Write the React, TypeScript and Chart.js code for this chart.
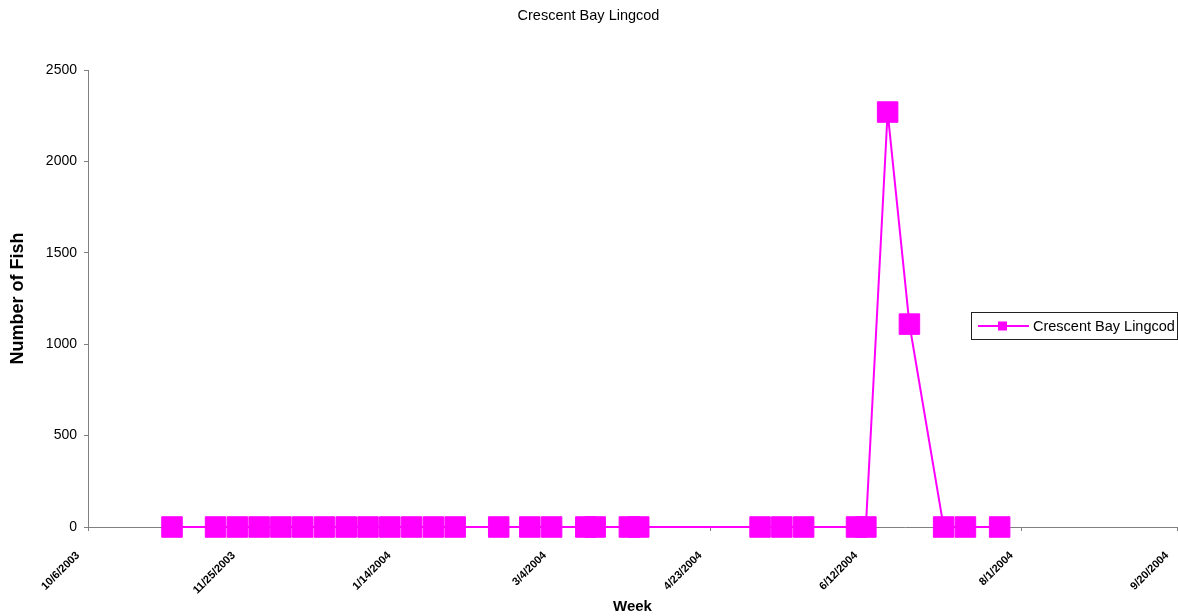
import React, { useEffect, useRef } from "react";
import { Chart, registerables } from "chart.js";

Chart.register(...registerables);

const CHART_TITLE = "Crescent Bay Lingcod";
const SERIES_NAME = "Crescent Bay Lingcod";
const X_TITLE = "Week";
const Y_TITLE = "Number of Fish";
const BASE_DATE = "2003-10-06";
const TICK_STEP_DAYS = 50;
const X_MAX_DAYS = 350;
const Y_MAX = 2500;
const Y_STEP = 500;

const tickLabels = [
  "10/6/2003",
  "11/25/2003",
  "1/14/2004",
  "3/4/2004",
  "4/23/2004",
  "6/12/2004",
  "8/1/2004",
  "9/20/2004",
];

const sampleDates = [
  "2003-11-02", "2003-11-16", "2003-11-23", "2003-11-30", "2003-12-07",
  "2003-12-14", "2003-12-21", "2003-12-28", "2004-01-04", "2004-01-11",
  "2004-01-18", "2004-01-25", "2004-02-01", "2004-02-15", "2004-02-25",
  "2004-03-03", "2004-03-14", "2004-03-17", "2004-03-28", "2004-03-31",
  "2004-05-09", "2004-05-16", "2004-05-23", "2004-06-09", "2004-06-12",
  "2004-06-19", "2004-06-26", "2004-07-07", "2004-07-14", "2004-07-25",
];

const lingcodCounts = [
  0, 0, 0, 0, 0, 0, 0, 0, 0, 0, 0, 0, 0, 0, 0, 0, 0, 0, 0, 0, 0, 0, 0, 0, 0,
  2270, 1110, 0, 0, 0,
];

const MAGENTA = "#FF00FF";
const AXIS_GREY = "#808080";
const FONT = "'Liberation Sans', Arial, sans-serif";

const dayOffset = (d: string) =>
  Math.round((Date.parse(d) - Date.parse(BASE_DATE)) / 86400000);

const boxLegend = {
  id: "boxLegend",
  afterDraw(chart: any) {
    const ctx = chart.ctx as CanvasRenderingContext2D;
    const area = chart.chartArea;
    const boxLeft = 971;
    const boxRight = chart.width;
    const midY = Math.round(area.top + (area.bottom - area.top) * 0.56);
    const boxTop = midY - 14;
    ctx.save();
    ctx.strokeStyle = "#222";
    ctx.lineWidth = 1;
    ctx.strokeRect(boxLeft + 0.5, boxTop + 0.5, boxRight - boxLeft - 1, 27);
    ctx.strokeStyle = MAGENTA;
    ctx.lineWidth = 2;
    ctx.beginPath();
    ctx.moveTo(boxLeft + 7, midY);
    ctx.lineTo(boxLeft + 58, midY);
    ctx.stroke();
    ctx.fillStyle = MAGENTA;
    ctx.fillRect(boxLeft + 27, midY - 4.5, 9, 9);
    ctx.fillStyle = "#000";
    ctx.font = `14.5px ${FONT}`;
    ctx.textAlign = "left";
    ctx.textBaseline = "middle";
    ctx.fillText(SERIES_NAME, boxLeft + 62, midY + 1);
    ctx.restore();
  },
};

export default function App() {
  const ref = useRef<HTMLCanvasElement>(null);

  useEffect(() => {
    const canvas = ref.current;
    if (!canvas) return;
    Chart.defaults.font.family = FONT;
    Chart.defaults.color = "#000";
    const points = sampleDates.map((d, i) => ({ x: dayOffset(d), y: lingcodCounts[i] }));
    const chart = new Chart(canvas, {
      type: "line",
      data: {
        datasets: [
          {
            label: SERIES_NAME,
            data: points,
            borderColor: MAGENTA,
            backgroundColor: MAGENTA,
            borderWidth: 2,
            pointStyle: "rect",
            pointRadius: 14.5,
            pointBorderWidth: 1,
            pointBorderColor: MAGENTA,
            pointBackgroundColor: MAGENTA,
            tension: 0,
            clip: false as any,
          },
        ],
      },
      options: {
        responsive: false,
        animation: false,
        layout: { autoPadding: false, padding: { top: 0, right: 1, bottom: 0, left: 0 } },
        plugins: {
          legend: { display: false },
          tooltip: { enabled: false },
          title: {
            display: true,
            text: CHART_TITLE,
            color: "#000",
            font: { size: 14.5, weight: "normal", family: FONT },
            padding: { top: 7, bottom: 45.6 },
          },
        },
        scales: {
          x: {
            type: "linear",
            min: 0,
            max: X_MAX_DAYS,
            afterFit(scale: any) {
              scale.height = 89;
              scale.paddingLeft = 0;
              scale.paddingRight = 0;
            },
            ticks: {
              stepSize: TICK_STEP_DAYS,
              autoSkip: false,
              minRotation: 45,
              maxRotation: 45,
              padding: 18,
              labelOffset: -10,
              color: "#000",
              font: { size: 11, weight: "bold", family: FONT },
              callback: (v: any) => tickLabels[Math.round(Number(v) / TICK_STEP_DAYS)] ?? "",
            },
            grid: {
              display: true,
              drawOnChartArea: false,
              drawTicks: true,
              tickLength: 4,
              color: AXIS_GREY,
            },
            border: { display: true, color: AXIS_GREY, width: 1 },
            title: {
              display: true,
              text: X_TITLE,
              color: "#000",
              font: { size: 15, weight: "bold", family: FONT },
              padding: { top: 0, bottom: 0 },
            },
          },
          y: {
            type: "linear",
            min: 0,
            max: Y_MAX,
            afterFit(scale: any) {
              scale.width = 88;
            },
            ticks: {
              stepSize: Y_STEP,
              padding: 7,
              color: "#000",
              font: { size: 14, family: FONT },
              callback: (v: any) => String(v),
            },
            grid: {
              display: true,
              drawOnChartArea: false,
              drawTicks: true,
              tickLength: 4,
              color: AXIS_GREY,
            },
            border: { display: true, color: AXIS_GREY, width: 1 },
            title: {
              display: true,
              text: Y_TITLE,
              color: "#000",
              font: { size: 18, weight: "bold", family: FONT },
              padding: { top: 7, bottom: 0 },
            },
          },
        },
      },
      plugins: [boxLegend],
    } as any);
    return () => chart.destroy();
  }, []);

  return (
    <div style={{ position: "fixed", left: 0, top: 0, width: 1178, height: 616 }}>
      <canvas
        ref={ref}
        width={1178}
        height={616}
        style={{ display: "block", width: 1178, height: 616 }}
      />
    </div>
  );
}
